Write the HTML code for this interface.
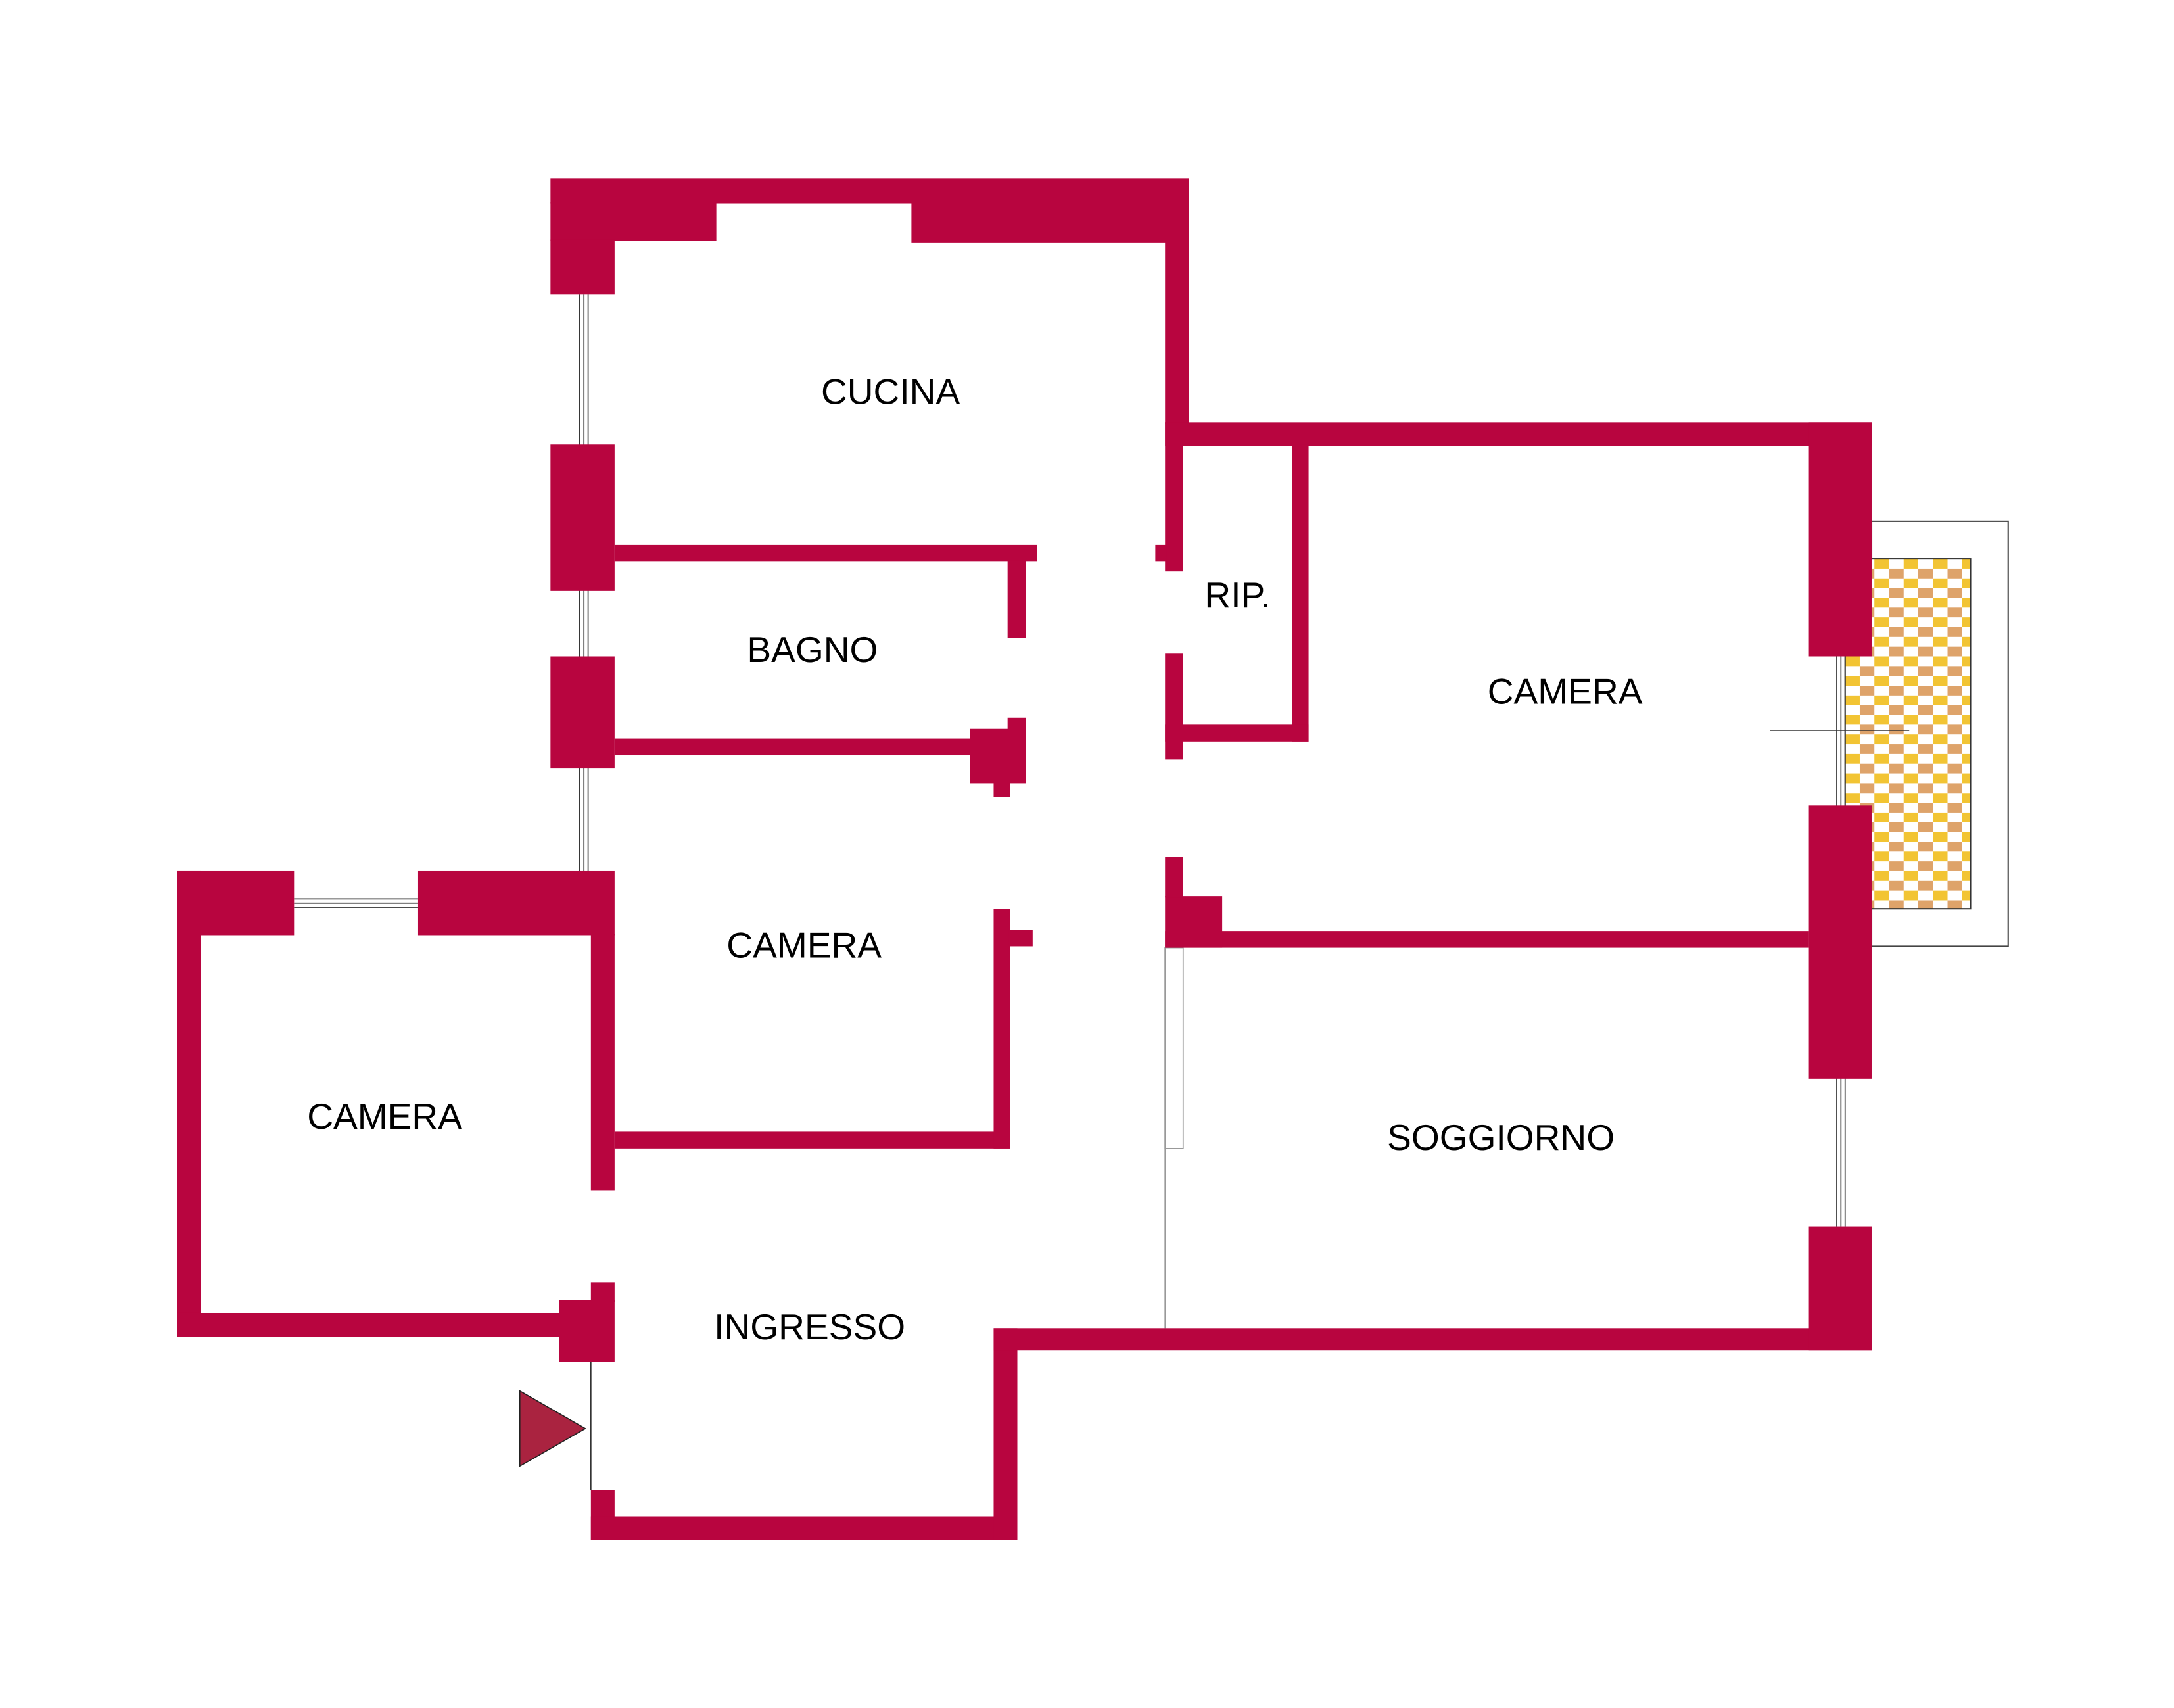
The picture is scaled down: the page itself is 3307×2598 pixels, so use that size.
<!DOCTYPE html>
<html><head><meta charset="utf-8"><style>
html,body{margin:0;padding:0;background:#fff;}
svg{display:block;}
text{font-family:"Liberation Sans",sans-serif;font-size:26px;fill:#000;text-anchor:middle;dominant-baseline:central;}
</style></head><body>
<svg width="3307" height="2598" viewBox="0 0 1560 1225.5" preserveAspectRatio="none" xmlns="http://www.w3.org/2000/svg">
<defs>
<pattern id="chk" x="1324" y="401" width="21" height="14" patternUnits="userSpaceOnUse">
<rect width="21" height="14" fill="#fff"/>
<rect x="0" y="0" width="10.5" height="7" fill="#f2c433"/>
<rect x="10.5" y="7" width="10.5" height="7" fill="#dea36a"/>
</pattern>
</defs>
<rect x="1343" y="374" width="98" height="305" fill="#fff" stroke="#444" stroke-width="1"/>
<rect x="1324" y="401" width="90" height="251" fill="url(#chk)" stroke="#333" stroke-width="1"/>
<g stroke="#333" stroke-width="0.8" fill="none">
<line x1="416" y1="211" x2="416" y2="625"/><line x1="419" y1="211" x2="419" y2="625"/><line x1="422" y1="211" x2="422" y2="625"/>
<line x1="211" y1="645" x2="300" y2="645"/><line x1="211" y1="648" x2="300" y2="648"/><line x1="211" y1="651" x2="300" y2="651"/>
<line x1="1318" y1="471" x2="1318" y2="880"/><line x1="1321" y1="471" x2="1321" y2="880"/><line x1="1324" y1="471" x2="1324" y2="880"/>
<line x1="1270" y1="524" x2="1370" y2="524"/>
<line x1="424" y1="977" x2="424" y2="1069"/>
<line x1="836" y1="680" x2="836" y2="953" stroke="#999"/>
<rect x="836" y="680" width="13" height="144" stroke="#999"/>
</g>
<g fill="#B8053F">
<rect x="395" y="128" width="458" height="18"/>
<rect x="395" y="145" width="119" height="28"/>
<rect x="654" y="145" width="199" height="29"/>
<rect x="395" y="172" width="46" height="39"/>
<rect x="836" y="173" width="17" height="131"/>
<rect x="836" y="303" width="13" height="107"/>
<rect x="829" y="391" width="8" height="12"/>
<rect x="836" y="303" width="507" height="17"/>
<rect x="1298" y="303" width="45" height="168"/>
<rect x="927" y="319" width="12" height="213"/>
<rect x="836" y="520" width="103" height="12"/>
<rect x="836" y="469" width="13" height="76"/>
<rect x="395" y="319" width="46" height="105"/>
<rect x="395" y="471" width="46" height="80"/>
<rect x="441" y="391" width="303" height="12"/>
<rect x="723" y="402" width="13" height="56"/>
<rect x="441" y="530" width="256" height="12"/>
<rect x="696" y="523" width="40" height="39"/>
<rect x="723" y="515" width="13" height="9"/>
<rect x="713" y="561" width="12" height="11"/>
<rect x="300" y="625" width="141" height="46"/>
<rect x="127" y="625" width="84" height="46"/>
<rect x="127" y="625" width="17" height="334"/>
<rect x="127" y="942" width="290" height="17"/>
<rect x="401" y="933" width="40" height="44"/>
<rect x="424" y="920" width="17" height="14"/>
<rect x="424" y="670" width="17" height="184"/>
<rect x="441" y="812" width="284" height="12"/>
<rect x="713" y="652" width="12" height="172"/>
<rect x="724" y="667" width="17" height="12"/>
<rect x="424" y="1069" width="17" height="36"/>
<rect x="424" y="1088" width="306" height="17"/>
<rect x="713" y="953" width="17" height="152"/>
<rect x="713" y="953" width="630" height="16"/>
<rect x="1298" y="578" width="45" height="196"/>
<rect x="1298" y="880" width="45" height="89"/>
<rect x="836" y="668" width="462" height="12"/>
<rect x="836" y="643" width="41" height="37"/>
<rect x="836" y="615" width="13" height="29"/>
</g>
<polygon points="373,998 420,1025 373,1052" fill="#AA2340" stroke="#222" stroke-width="0.8"/>
<text x="639" y="281">CUCINA</text>
<text x="583" y="466">BAGNO</text>
<text x="888" y="427">RIP.</text>
<text x="1123" y="496">CAMERA</text>
<text x="577" y="678">CAMERA</text>
<text x="276" y="801">CAMERA</text>
<text x="1077" y="816">SOGGIORNO</text>
<text x="581" y="952">INGRESSO</text>
</svg>
</body></html>
